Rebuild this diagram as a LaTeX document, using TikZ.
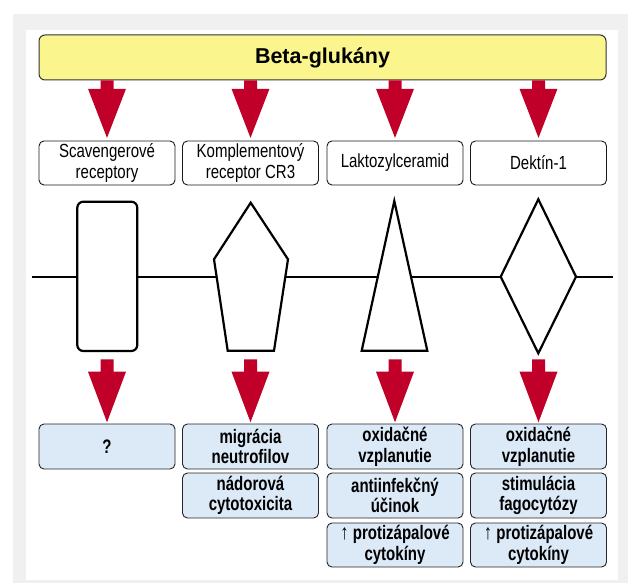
\documentclass[tikz,border=0pt]{standalone}
\usepackage{fontspec}
\setmainfont{Liberation Sans}
\newfontfamily\narrowfont[FakeStretch=0.79]{Liberation Sans}
\newfontfamily\narrowbold[FakeStretch=0.77]{Liberation Sans Bold}
\usetikzlibrary{calc}
\definecolor{bggray}{HTML}{F0F0F0}
\definecolor{baryellow}{HTML}{FAF58C}
\definecolor{boxblue}{HTML}{DCE9F7}
\definecolor{arrowred}{HTML}{C00028}
\newcommand\redarrow[4]{%
  \fill[arrowred] let \p1=(#1), \p2=(#2) in
    (\x2-6.5pt,\y1) -- (\x2+6.5pt,\y1) -- (\x2+6.5pt,\y1-#3) -- (\x2+19pt,\y1-#3)
    -- (\x2,\y2+#4) -- (\x2-19pt,\y1-#3) -- (\x2-6.5pt,\y1-#3) -- cycle;}
\begin{document}
\begin{tikzpicture}[x=1pt,y=-1pt,
  recbox/.style={draw=black!90, line width=0.9pt, fill=white, rounded corners=5pt,
    minimum width=136pt, minimum height=44pt, inner sep=0pt, align=center,
    font=\narrowfont\fontsize{19}{21.5}\selectfont},
  effbox/.style={draw=black!85, line width=0.9pt, fill=boxblue, rounded corners=5pt,
    minimum width=136pt, minimum height=45pt, inner sep=0pt, align=center,
    font=\narrowbold\fontsize{19.5}{20.6}\selectfont},
  membrane/.style={line width=2.2pt, fill=white, line join=miter}]
\useasboundingbox (0,0) rectangle (628,583);
\fill[bggray] (13,14) rectangle (628,583);
\fill[white] (26,30) rectangle (618,580);

% title bar
\node[draw=black!80, line width=1pt, fill=baryellow, rounded corners=6pt,
  minimum width=567pt, minimum height=45pt, inner sep=0pt,
  font=\bfseries\fontsize{21.5}{24}\selectfont] (bar) at (322.5,57.5) {Beta-glukány};

% receptor boxes
\node[recbox] (r1) at (107,163) {Scavengerové\\receptory};
\node[recbox] (r2) at (250.5,163) {Komplementový\\receptor CR3};
\node[recbox] (r3) at (395,163) {Laktozylceramid};
\node[recbox] (r4) at (538.5,163) {Dektín-1};

\redarrow{r1.north |- bar.south}{r1.north}{8.3pt}{2.7pt}
\redarrow{r2.north |- bar.south}{r2.north}{8.3pt}{2.7pt}
\redarrow{r3.north |- bar.south}{r3.north}{8.3pt}{2.7pt}
\redarrow{r4.north |- bar.south}{r4.north}{8.3pt}{2.7pt}

% membrane
\draw[line width=2.2pt] (31.5,276.7) -- (613,276.7);
\draw[membrane, rounded corners=6pt] (77.3,201.7) rectangle (137.3,351);
\draw[membrane] (250.7,202.7) -- (288,259.3) -- (274,350.7) -- (227.7,350.7) -- (214,259.3) -- cycle;
\draw[membrane] (394.3,201) -- (427.3,350.7) -- (361.7,350.7) -- cycle;
\draw[membrane] (538.3,199.3) -- (576,276.7) -- (538.3,353.3) -- (500.7,276.7) -- cycle;

\coordinate (m1) at (107,359.3);
\coordinate (m2) at (250.5,359.3);
\coordinate (m3) at (395,359.3);
\coordinate (m4) at (538.5,359.3);

% effect boxes
\node[effbox] (e1) at (107,446.5) {?};
\node[effbox] (e2a) at (250.5,446.5) {migrácia\\neutrofilov};
\node[effbox] (e2b) at (250.5,495.5) {nádorová\\cytotoxicita};
\node[effbox] (e3a) at (395,446.5) {oxidačné\\vzplanutie};
\node[effbox] (e3b) at (395,495.5) {antiinfekčný\\účinok};
\node[effbox, minimum height=44pt] (e3c) at (395,545) {{\narrowfont\fontsize{21}{20.6}\selectfont ↑} protizápalové\\cytokíny};
\node[effbox] (e4a) at (538.5,446.5) {oxidačné\\vzplanutie};
\node[effbox] (e4b) at (538.5,495.5) {stimulácia\\fagocytózy};
\node[effbox, minimum height=44pt] (e4c) at (538.5,545) {{\narrowfont\fontsize{21}{20.6}\selectfont ↑} protizápalové\\cytokíny};

\redarrow{m1}{e1.north}{12.4pt}{1.3pt}
\redarrow{m2}{e2a.north}{12.4pt}{1.3pt}
\redarrow{m3}{e3a.north}{12.4pt}{1.3pt}
\redarrow{m4}{e4a.north}{12.4pt}{1.3pt}
\end{tikzpicture}
\end{document}
